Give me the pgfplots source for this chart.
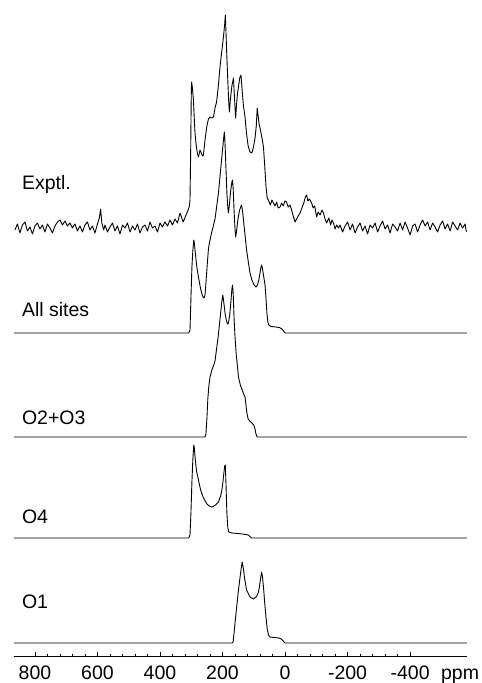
\documentclass[border=0pt]{standalone}
\usepackage{pgfplots}
\usepackage{pgfplotstable}
\pgfplotsset{compat=1.18}
\usepackage{fontspec}
\setmainfont{Liberation Sans}

\pgfplotstableread{
ppm h
867 0
170 0
166 1
160 20
149 53
141 73
137 81
133 74
130 66
123 53
112 46
101 44
91 46.5
85 51
82 56
78 65
75 71
72 66
69 56
65 40
61 26
57 14
53 8
48 6
35 5.5
20 5
12 4
6 2
2 0.5
0 0
-582 0
}\Oone

\pgfplotstableread{
ppm h
867 0
308 0
304 3
301 25
298 55
295 78
292 93
290 90
287 78
283 67
277 58
270 48
261 40
250 34
240 31.5
233 31
222 33
213 36
206 42
202 48
199 55
196 64
193 72
191 73
189 55
186 25
183 10
180 6
170 5
150 4.5
125 3.5
118 3
112 1.5
107 0
-582 0
}\Ofour

\pgfplotstableread{
ppm h
867 0
256 0
253 3
250 18
247 38
244 50
240 60
234 67
228 72
224 76
219 88
214 100
210 112
206 124
202 136
199 142
196 135
192 124
188 117
184 113
181 114
177 122
173 136
170 148
168 152
166 145
163 118
160 100
156 82
152 70
149 60
143 52
136 46
131 42
128 40
125 32
122 24
118 18
113 16
106 14
100 12
96 8
93 3
90 0.5
89 0
-582 0
}\Otwothree

\pgfplotstableread{
ppm h
867 0
308 0
304 3
301 35
298 65
295 82
292 93
290 90
287 80
283 68
277 56
270 44
264 37
259 35
256 38
253 50
249 68
245 84
242 90
235 100
224 114
213 140
203 173
196 196
194 201
192 190
189 165
186 140
183 125
181 120
178 128
174 142
170 151
168 153
166 145
163 122
160 104
158 96
155 102
151 113
146 122
142 126
139 128
136 122
132 110
128 98
123 83
117 70
112 60
106 53
99 48
93 46
88 48
84 53
80 60
77 66
75 68
72 64
68 56
64 48
61 35
58 20
55 11
52 8
45 6.5
30 6
18 5.5
10 4
5 2
0 0
-582 0
}\Allsites

\pgfplotstableread{
ppm h
864 426
856 432
848 423
840 431
832 434
824 425
816 429
808 422
800 430
792 433
784 427
776 431
768 424
760 432
752 428
744 423
736 430
728 434
720 436
712 431
704 435
696 430
688 433
680 428
672 432
664 425
656 430
648 424
640 431
632 434
624 426
616 430
608 423
600 432
594 438
590 447
586 433
580 426
576 431
568 424
560 429
552 433
544 425
536 430
528 422
520 431
512 428
504 433
496 424
488 430
480 426
472 432
464 423
456 429
448 431
440 425
432 434
424 428
416 430
408 424
400 433
392 429
384 434
376 430
368 436
360 431
352 437
344 433
336 443
326 434
318 440
314 443
310 446
306 450
304 456
302 500
300 560
299 574
297 570
293 556
290 535
288 523
284 510
280 502
277 499
274 503
272 506
268 503
264 500
261 501
258 510
256 516
250 530
245 537
240 539
235 538
229 539
224 548
219 554
214 568
208 589
203 603
197 619
193 632
191 641
189 625
187 606
183 575
180 553
178 544
175 556
170 570
165 578
162 560
158 538
155 552
152 563
149 569
145 578
141 581
137 565
133 550
128 539
123 522
118 510
112 504
106 503
101 509
96 518
92 530
89 548
86 540
83 532
80 528
75 520
72 515
69 509
65 490
61 470
57 458
52 455
47 451
42 456
37 453
32 450
27 454
22 448
16 449
11 453
6 450
0 455
-5 454
-10 449
-16 451
-21 446
-26 440
-32 434
-37 437
-42 440
-48 443
-54 448
-60 453
-65 459
-69 461
-73 455
-78 457
-85 453
-90 448
-95 450
-101 439
-106 444
-112 441
-118 446
-123 443
-128 437
-133 433
-140 438
-146 431
-150 436
-155 433
-160 427
-165 431
-171 428
-176 431
-184 424
-192 430
-200 434
-208 426
-216 432
-224 423
-232 429
-240 433
-248 425
-256 430
-264 422
-272 431
-280 428
-288 433
-296 424
-304 430
-312 435
-320 427
-328 431
-336 423
-344 432
-352 429
-360 425
-368 433
-376 426
-384 434
-392 428
-400 421
-408 430
-416 432
-424 424
-432 431
-440 436
-448 430
-456 434
-464 426
-472 433
-480 429
-488 424
-496 431
-504 435
-512 427
-520 432
-528 425
-536 434
-544 430
-552 426
-560 433
-568 428
-576 432
-580 424
}\Exptl

\pgfplotsset{spec/.style={black, line width=0.9pt, line join=round, mark=none}}

\begin{document}
\begin{tikzpicture}
\useasboundingbox (0,0) rectangle (482pt,683pt);
\begin{axis}[
  at={(14pt,27pt)}, anchor=south west,
  width=453pt, height=656pt, scale only axis,
  xmin=-582, xmax=867, ymin=0, ymax=656,
  x dir=reverse,
  axis x line*=bottom,
  hide y axis,
  clip=false,
  xtick={-400,-200,0,200,400,600,800},
  minor x tick num=4,
  tick align=inside,
  major tick length=4pt,
  minor tick length=2.5pt,
  every tick/.style={black, line width=0.6pt},
  axis line style={black, line width=0.9pt},
  /pgf/number format/assume math mode=true,
  xticklabel style={font=\fontsize{19.5}{22}\selectfont, anchor=base, yshift=-23pt, inner sep=0pt},
]
\addplot[spec] table[x=ppm, y expr=\thisrow{h}+13] {\Oone};
\addplot[spec] table[x=ppm, y expr=\thisrow{h}+118] {\Ofour};
\addplot[spec] table[x=ppm, y expr=\thisrow{h}+219] {\Otwothree};
\addplot[spec] table[x=ppm, y expr=\thisrow{h}+323] {\Allsites};
\addplot[spec] table[x=ppm, y=h] {\Exptl};

\node[anchor=base west, inner sep=0pt, font=\fontsize{19.5}{22}\selectfont] at (axis cs:842,466) {Exptl.};
\node[anchor=base west, inner sep=0pt, font=\fontsize{19.5}{22}\selectfont] at (axis cs:842,339) {All sites};
\node[anchor=base west, inner sep=0pt, font=\fontsize{19.5}{22}\selectfont] at (axis cs:842,231) {O2+O3};
\node[anchor=base west, inner sep=0pt, font=\fontsize{19.5}{22}\selectfont] at (axis cs:842,132) {O4};
\node[anchor=base west, inner sep=0pt, font=\fontsize{19.5}{22}\selectfont] at (axis cs:842,47) {O1};
\node[anchor=base, inner sep=0pt, font=\fontsize{19.5}{22}\selectfont, yshift=-23pt] at (axis cs:-560,0) {ppm};
\end{axis}
\end{tikzpicture}
\end{document}
